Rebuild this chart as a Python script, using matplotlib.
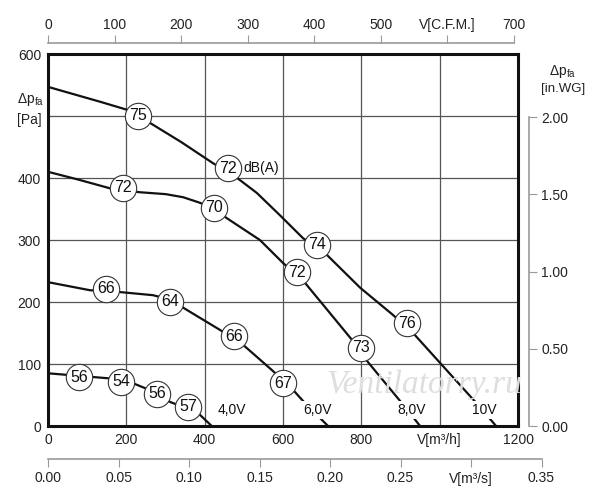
import matplotlib
matplotlib.use('Agg')
import matplotlib.pyplot as plt

plt.rcParams['font.family'] = ['Liberation Sans', 'DejaVu Sans']
plt.rcParams['mathtext.fontset'] = 'custom'
plt.rcParams['mathtext.rm'] = 'Liberation Sans'

# Kennlinien (V in m3/h, dp in Pa)
v_10 = [0, 133, 202, 260, 340, 421, 483, 533, 592, 651, 712, 797, 881, 932, 1015, 1098, 1144]
p_10 = [547, 523, 510, 489, 458, 424, 400, 376, 340, 303, 276, 223, 179, 150, 92, 34, 0]
v_8 = [0, 80, 166, 235, 300, 345, 388, 424, 457, 541, 600, 656, 720, 776, 817, 906, 950]
p_8 = [410, 397, 382, 377, 374, 369, 360, 350, 335, 300, 263, 231, 182, 139, 103, 35, 0]
v_6 = [0, 107, 184, 268, 311, 342, 439, 498, 572, 626, 656, 715]
p_6 = [232, 219, 216, 211, 204, 192, 155, 131, 90, 58, 37, 0]
v_4 = [0, 115, 153, 186, 217, 248, 311, 383, 418]
p_4 = [85, 79, 77, 73, 69, 61, 39, 21, 0]

# Schallpegel-Kreise (x, y, dB)
db_x = [230, 460, 687, 917, 191, 424, 636, 799, 148, 311, 475, 600, 79, 186, 278, 357]
db_y = [500, 416, 292, 166, 384, 352, 248, 126, 221, 200, 145, 69, 79, 71, 52, 31]
db_val = ['75', '72', '74', '76', '72', '70', '72', '73', '66', '64', '66', '67', '56', '54', '56', '57']

volt_x = [470, 687, 929, 1113]
volt_lbl = ['4,0V', '6,0V', '8,0V', '10V']

x_ticks = [0, 200, 400, 600, 800, 1000, 1200]
x_lbls = ['0', '200', '400', '600', '800', 'V[m³/h]', '1200']
y_ticks = [0, 100, 200, 300, 400, 500, 600]
y_lbls = ['0', '100', '200', '300', '400', '', '600']
cfm_ticks = [0, 100, 200, 300, 400, 500, 600, 700]
cfm_lbls = ['0', '100', '200', '300', '400', '500', 'V[C.F.M.]', '700']
ms_ticks = [0, 0.05, 0.10, 0.15, 0.20, 0.25, 0.30, 0.35]
ms_lbls = ['0.00', '0.05', '0.10', '0.15', '0.20', '0.25', 'V[m³/s]', '0.35']
wg_ticks = [0, 0.5, 1.0, 1.5, 2.0]
wg_lbls = ['0.00', '0.50', '1.00', '1.50', '2.00']

W, H = 600, 500
fig = plt.figure(figsize=(6, 5), dpi=100)

# Hauptdiagramm
L, B, AW, AH = 48, 74, 470, 372
ax = fig.add_axes([L / W, B / H, AW / W, AH / H])
ax.set_xlim(0, 1200)
ax.set_ylim(0, 600)
ax.set_xticks(x_ticks)
ax.set_xticklabels(x_lbls)
ax.set_yticks(y_ticks)
ax.set_yticklabels(y_lbls)
ax.tick_params(length=0, labelsize=10, pad=5, colors='#222222')
ax.grid(color='#555555', lw=0.9)
ax.set_axisbelow(True)
for s in ax.spines.values():
    s.set_linewidth(2.2)
    s.set_color('#111111')

# Wasserzeichen
fig.text(424 / W, 1 - 385 / H, 'Ventilatorry.ru', ha='center', va='center',
         fontsize=24, style='italic', family='Liberation Serif', color='#dedede', zorder=1)

for v, p in [(v_10, p_10), (v_8, p_8), (v_6, p_6), (v_4, p_4)]:
    ax.plot(v, p, color='#111111', lw=1.6, zorder=3, solid_capstyle='butt', solid_joinstyle='round')

ax.scatter(db_x, db_y, s=360, facecolor='white', edgecolor='#333333', lw=0.8, zorder=4)
for x, y, t in zip(db_x, db_y, db_val):
    ax.text(x, y, t, ha='center', va='center', fontsize=11.5, zorder=5, color='#111111')
ax.text(500, 416, 'dB(A)', ha='left', va='center', fontsize=10, zorder=5, color='#111111')

for x, t in zip(volt_x, volt_lbl):
    ax.text(x, 26, t, ha='center', va='center', fontsize=10, zorder=5, color='#111111',
            bbox=dict(boxstyle='square,pad=0.15', fc='white', ec='none'))

fig.text(17 / W, 1 - 100 / H, r'Δp$_{\rm fa}$', ha='left', va='center', fontsize=10, color='#222222')
fig.text(17 / W, 1 - 120 / H, '[Pa]', ha='left', va='center', fontsize=10, color='#222222')
fig.text(563 / W, 1 - 72 / H, r'Δp$_{\rm fa}$', ha='center', va='center', fontsize=10, color='#222222')
fig.text(563 / W, 1 - 89 / H, '[in.WG]', ha='center', va='center', fontsize=9.5, color='#222222')

px_per_m3h = AW / 1200
px_per_pa = AH / 600
aux_col = '#999999'


def clean(a):
    a.patch.set_visible(False)
    for s in a.spines.values():
        s.set_visible(False)


# obere Achse C.F.M.
cfm_w = 700 * 1.699 * px_per_m3h
top = fig.add_axes([L / W, (H - 43) / H - 0.004, cfm_w / W, 0.004])
clean(top)
top.set_xlim(0, 700)
top.set_yticks([])
top.xaxis.tick_top()
top.spines['top'].set_visible(True)
top.spines['top'].set_color(aux_col)
top.spines['top'].set_linewidth(1.2)
top.set_xticks(cfm_ticks)
top.set_xticklabels(cfm_lbls)
top.tick_params(axis='x', length=6, color=aux_col, labelsize=10, labelcolor='#222222', pad=2)

# untere Achse m3/s
ms_w = 0.35 * 3600 * px_per_m3h
bot = fig.add_axes([L / W, (H - 459) / H, ms_w / W, 0.004])
clean(bot)
bot.set_xlim(0, 0.35)
bot.set_yticks([])
bot.spines['bottom'].set_visible(True)
bot.spines['bottom'].set_color(aux_col)
bot.spines['bottom'].set_linewidth(1.2)
bot.set_xticks(ms_ticks)
bot.set_xticklabels(ms_lbls)
bot.tick_params(axis='x', length=6, color=aux_col, labelsize=10, labelcolor='#222222', pad=3)

# rechte Achse in.WG
wg_h = 2.0 * 249.089 * px_per_pa
rgt = fig.add_axes([(529 - 3) / W, B / H, 3 / W, wg_h / H])
clean(rgt)
rgt.set_ylim(0, 2.0)
rgt.set_xticks([])
rgt.yaxis.tick_right()
rgt.spines['right'].set_visible(True)
rgt.spines['right'].set_color(aux_col)
rgt.spines['right'].set_linewidth(1.2)
rgt.set_yticks(wg_ticks)
rgt.set_yticklabels(wg_lbls)
rgt.tick_params(axis='y', length=6, color=aux_col, labelsize=10, labelcolor='#222222', pad=3)

fig.savefig('out.png', dpi=100)
